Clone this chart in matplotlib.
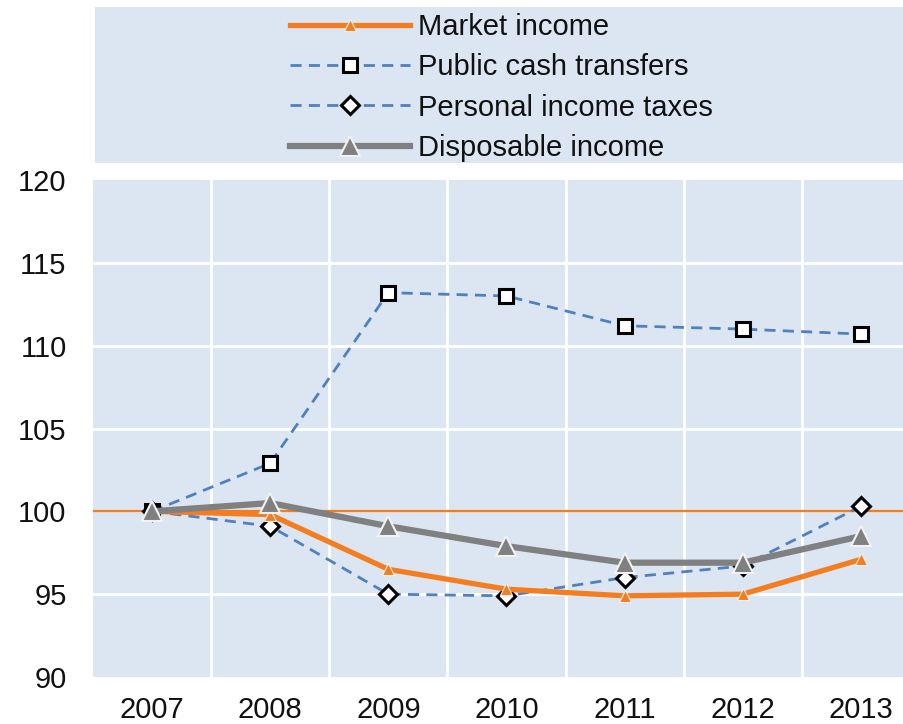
import matplotlib
matplotlib.use("Agg")
import matplotlib.pyplot as plt

years = ["2007", "2008", "2009", "2010", "2011", "2012", "2013"]
market_income = [100.0, 99.8, 96.5, 95.3, 94.9, 95.0, 97.1]
public_cash_transfers = [100.0, 102.9, 113.2, 113.0, 111.2, 111.0, 110.7]
personal_income_taxes = [100.0, 99.1, 95.0, 94.9, 96.0, 96.7, 100.3]
disposable_income = [100.0, 100.5, 99.1, 97.9, 96.9, 96.9, 98.5]
y_ticks = [90, 95, 100, 105, 110, 115, 120]

plt.rcParams['font.family'] = ['Liberation Sans', 'DejaVu Sans']

BG = "#DCE6F2"
ORANGE = "#F47D20"
BLUE = "#4F81BD"
GREY = "#808080"

fig = plt.figure(figsize=(9.04, 7.24), dpi=100)
W, H = 904, 724

ax = fig.add_axes([93 / W, 1 - 677 / H, 1 - 93 / W, (677 - 180) / H])
ax.set_facecolor(BG)
x = list(range(len(years)))

ax.axhline(100, color=ORANGE, lw=1.6, zorder=2)

l2, = ax.plot(x, public_cash_transfers, color=BLUE, lw=2.0, ls=(0, (4, 2.6)),
              marker="s", ms=10, mfc="white", mec="black", mew=2.2, zorder=3,
              label="Public cash transfers")
l3, = ax.plot(x, personal_income_taxes, color=BLUE, lw=2.0, ls=(0, (4, 2.6)),
              marker="D", ms=9, mfc="white", mec="black", mew=2.2, zorder=3,
              label="Personal income taxes")
l1, = ax.plot(x, market_income, color=ORANGE, lw=3.8, marker="^", ms=9,
              mfc=ORANGE, mec="#F6F0EA", mew=0.8, zorder=4,
              label="Market income")
l4, = ax.plot(x, disposable_income, color=GREY, lw=4.5, marker="^", ms=14,
              mfc=GREY, mec="#F2F2F2", mew=1.5, zorder=5,
              label="Disposable income")

ax.set_xlim(-0.5, 6.5 - 16 / 118.5)
ax.set_ylim(90, 120)
ax.set_yticks(y_ticks)
ax.set_xticks(x)
ax.set_xticklabels(years)
ax.set_xticks([i + 0.5 for i in range(len(years) - 1)], minor=True)
ax.grid(False)
for v in [95, 105, 110, 115]:
    ax.axhline(v, color="white", lw=2, zorder=1)
ax.grid(which="minor", axis="x", color="white", lw=2, zorder=1)
ax.set_axisbelow(True)
ax.tick_params(axis="both", which="both", length=0, labelsize=21, colors="#111111")
ax.tick_params(axis="y", pad=19)
ax.tick_params(axis="x", pad=14)
for s in ax.spines.values():
    s.set_visible(False)

lax = fig.add_axes([95 / W, 1 - 163 / H, 1 - 95 / W, (163 - 7) / H])
lax.set_facecolor(BG)
lax.set_xticks([])
lax.set_yticks([])
for s in lax.spines.values():
    s.set_visible(False)

leg = lax.legend(handles=[l1, l2, l3, l4], loc="upper left",
                 bbox_to_anchor=(290 / W, 1 - 13 / H), bbox_transform=fig.transFigure,
                 frameon=False, fontsize=21, handlelength=4.1, handletextpad=0.3,
                 labelspacing=0.42, borderpad=0, borderaxespad=0)
for t in leg.get_texts():
    t.set_color("#111111")

fig.savefig("out.png", dpi=100)
